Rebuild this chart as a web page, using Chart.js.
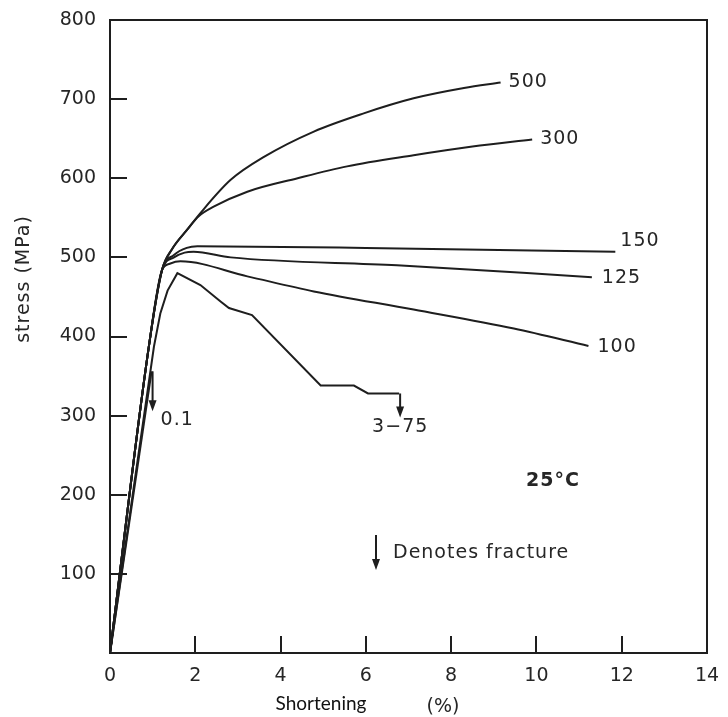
<!DOCTYPE html>
<html><head><meta charset="utf-8">
<script src="https://cdn.jsdelivr.net/npm/chart.js@4.4.0/dist/chart.umd.min.js"></script>
<style>html,body{margin:0;padding:0;background:#fff}</style>
</head><body>
<canvas id="c" width="728" height="717"></canvas>
<script>
// ---- tick values ----
const xTicks = [0, 2, 4, 6, 8, 10, 12, 14];
const yTicks = [0, 100, 200, 300, 400, 500, 600, 700, 800];

// ---- series (strain %, stress MPa) ----
const s500x = [0, 0.91, 1.22, 1.45, 1.81, 2.12, 2.83, 3.61, 4.78, 5.95, 7.12, 8.30, 9.16];
const s500y = [0, 387, 484, 510, 535, 556, 598, 627, 659, 682, 701, 714, 721];

const s300x = [0, 0.91, 1.22, 1.45, 1.81, 2.08, 2.43, 3.22, 4.40, 5.56, 7.12, 8.50, 9.90];
const s300y = [0, 387, 484, 510, 535, 552, 564, 583, 600, 615, 629, 640, 649];

const s150x = [0, 0.91, 1.22, 1.50, 1.80, 2.05, 6.00, 11.85];
const s150y = [0, 387, 484, 503, 512, 514, 512, 507];

const s125x = [0, 0.91, 1.22, 1.50, 1.75, 1.96, 2.83, 6.73, 11.30];
const s125y = [0, 387, 484, 500, 506, 507, 500, 490, 475];

const s100x = [0, 0.91, 1.22, 1.40, 1.65, 3.22, 4.78, 7.12, 9.47, 11.22];
const s100y = [0, 387, 484, 492, 495, 476, 457, 434, 410, 388];

const s01x = [0, 0.975];
const s01y = [0, 356];

const s375x = [0, 1.03, 1.18, 1.35, 1.58, 2.12, 2.60, 2.79, 3.33, 4.94, 5.72, 6.05, 6.78];
const s375y = [0, 387, 429, 458, 480, 465, 444, 436, 427, 338, 338, 328, 328];

const seriesNames = ['500', '300', '150', '125', '100', '0.1', '3\u221275'];
const seriesX = [s500x, s300x, s150x, s125x, s100x, s01x, s375x];
const seriesY = [s500y, s300y, s150y, s125y, s100y, s01y, s375y];
const fractured = ['0.1', '3\u221275'];
const smooth = ['500', '300', '150', '125', '100'];

// ---- styling (label offsets in px from series end) ----
const labelOffsets = {
  '500': [8, 0], '300': [8, 0], '150': [5, -11], '125': [10, 1], '100': [9, 1],
  '0.1': [9, 49], '3\u221275': [-27, 34]
};
const arrowLen = { '0.1': 40, '3\u221275': 24 };
const LINE = '#1e1e1e';
const TEXT = '#262626';
const FONT = '"DejaVu Sans", sans-serif';

const datasets = seriesNames.map((n, i) => ({
  label: n,
  data: seriesX[i].map((xv, j) => ({ x: xv, y: seriesY[i][j] })),
  showLine: true,
  borderColor: LINE,
  borderWidth: 2,
  pointRadius: 0,
  cubicInterpolationMode: smooth.includes(n) ? 'monotone' : 'default',
  tension: 0,
  fill: false
}));

function arrow(ctx, x, y0, y1) {
  ctx.beginPath();
  ctx.moveTo(x, y0); ctx.lineTo(x, y1 - 8);
  ctx.stroke();
  ctx.beginPath();
  ctx.moveTo(x - 4, y1 - 11); ctx.lineTo(x + 4, y1 - 11); ctx.lineTo(x, y1);
  ctx.closePath(); ctx.fill();
}

const annot = {
  id: 'annot',
  afterDraw(chart) {
    const { ctx, chartArea: a, scales: { x, y } } = chart;
    ctx.save();
    ctx.strokeStyle = LINE; ctx.fillStyle = LINE; ctx.lineWidth = 2;
    ctx.strokeRect(a.left, a.top, a.right - a.left, a.bottom - a.top);
    ctx.beginPath();
    yTicks.forEach(v => {
      if (v > yTicks[0] && v < yTicks[yTicks.length - 1]) {
        const py = Math.round(y.getPixelForValue(v));
        ctx.moveTo(a.left, py); ctx.lineTo(a.left + 17, py);
      }
    });
    xTicks.forEach(v => {
      if (v > xTicks[0] && v < xTicks[xTicks.length - 1]) {
        const px = Math.round(x.getPixelForValue(v));
        ctx.moveTo(px, a.bottom); ctx.lineTo(px, a.bottom - 17);
      }
    });
    ctx.stroke();

    // series labels and fracture arrows
    ctx.font = '19px ' + FONT;
    ctx.textBaseline = 'middle';
    ctx.textAlign = 'left';
    try { ctx.letterSpacing = '1px'; } catch (e) {}
    seriesNames.forEach((n, i) => {
      const xs = seriesX[i], ys = seriesY[i];
      const ex = x.getPixelForValue(xs[xs.length - 1]);
      const ey = y.getPixelForValue(ys[ys.length - 1]);
      if (fractured.includes(n)) {
        ctx.fillStyle = LINE;
        arrow(ctx, ex + 1, ey, ey + arrowLen[n]);
      }
      const o = labelOffsets[n];
      ctx.fillStyle = TEXT;
      ctx.fillText(n, ex + o[0], ey + o[1]);
    });

    // temperature
    ctx.font = 'bold 19px ' + FONT;
    ctx.textAlign = 'center';
    ctx.fillText('25\u00B0C', 553, 481);

    // legend
    ctx.fillStyle = LINE;
    arrow(ctx, 376, 535, 570);
    ctx.fillStyle = TEXT;
    ctx.font = '19px ' + FONT;
    ctx.textAlign = 'left';
    ctx.fillText('Denotes fracture', 393, 553);

    // y title
    ctx.save();
    ctx.translate(24, 279);
    ctx.rotate(-Math.PI / 2);
    ctx.textAlign = 'center';
    ctx.fillText('stress (MPa)', 0, 0);
    ctx.restore();

    // x title
    try { ctx.letterSpacing = '0px'; } catch (e) {}
    ctx.textAlign = 'center';
    ctx.fillStyle = '#111';
    ctx.font = '19px Lato, "Open Sans", sans-serif';
    ctx.fillText('Shortening', 321, 704);
    ctx.fillStyle = TEXT;
    ctx.font = '19px ' + FONT;
    ctx.fillText('(%)', 443, 707);
    ctx.restore();
  }
};

new Chart(document.getElementById('c'), {
  type: 'scatter',
  data: { datasets },
  options: {
    responsive: false,
    animation: false,
    layout: { padding: { left: 0, top: 20, right: 21, bottom: 0 } },
    plugins: { legend: { display: false }, tooltip: { enabled: false } },
    scales: {
      x: {
        type: 'linear', min: xTicks[0], max: xTicks[xTicks.length - 1],
        afterBuildTicks: s => { s.ticks = xTicks.map(v => ({ value: v })); },
        afterFit: s => { s.height = 64; s.paddingLeft = 0; s.paddingRight = 0; },
        grid: { display: false, drawTicks: false },
        border: { display: false },
        ticks: { color: TEXT, font: { family: 'DejaVu Sans', size: 19 }, padding: 12, maxRotation: 0, autoSkip: false }
      },
      y: {
        type: 'linear', min: yTicks[0], max: yTicks[yTicks.length - 1],
        afterBuildTicks: s => { s.ticks = yTicks.map(v => ({ value: v })); },
        afterFit: s => { s.width = 110; s.paddingTop = 0; s.paddingBottom = 0; },
        grid: { display: false, drawTicks: false },
        border: { display: false },
        ticks: { color: TEXT, font: { family: 'DejaVu Sans', size: 19 }, padding: 14,
          callback: v => (v === 0 ? null : String(v)) }
      }
    }
  },
  plugins: [annot]
});
</script>
</body></html>
